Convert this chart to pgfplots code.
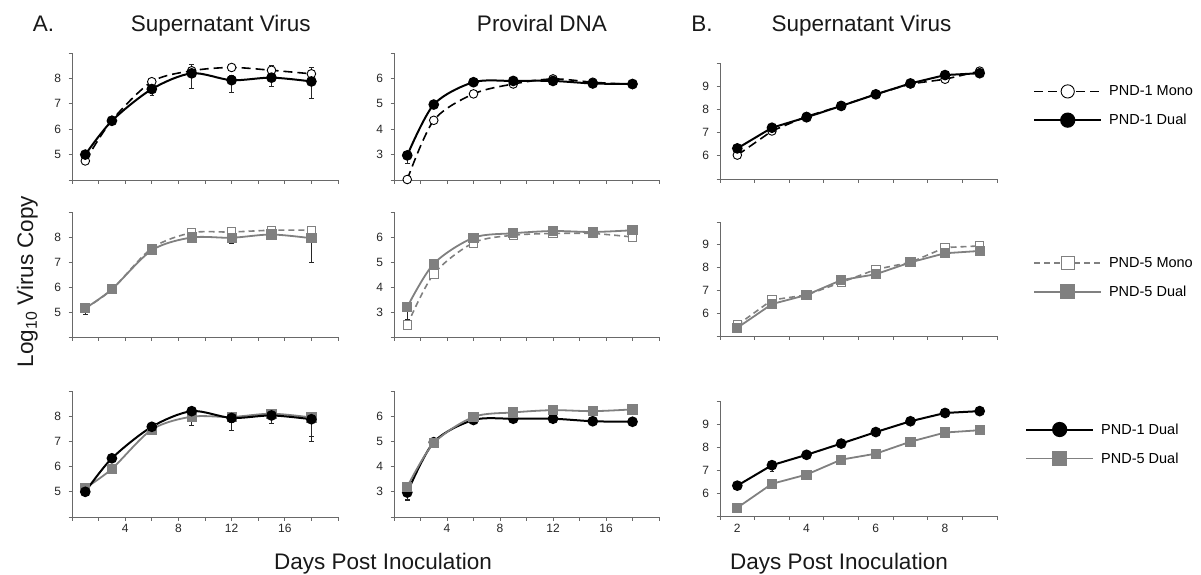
\documentclass[border=0pt]{standalone}
\usepackage{fontspec}
\setmainfont{Liberation Sans}
\usepackage{pgfplots}
\usepackage{pgfplotstable}
\pgfplotsset{compat=1.18}

\definecolor{pgray}{RGB}{128,128,128}
\definecolor{axgray}{RGB}{105,105,105}

% supernatant virus, days 1-18 (A)
\pgfplotstableread{
x y ep em
1 4.75 0.10 0.10
3 6.35 0.05 0.05
6 7.87 0.05 0.05
9 8.30 0.27 0.00
12 8.43 0.05 0.00
15 8.32 0.20 0.00
18 8.18 0.27 0.00
}\supMonoA
\pgfplotstableread{
x y ep em
1 5.00 0.12 0.15
3 6.33 0.05 0.05
6 7.58 0.05 0.25
9 8.20 0.05 0.58
12 7.93 0.20 0.47
15 8.03 0.10 0.33
18 7.88 0.10 0.68
}\supDualA
\pgfplotstableread{
x y ep em
1 5.15 0.00 0.00
3 5.90 0.00 0.00
6 7.55 0.00 0.00
9 8.17 0.00 0.00
12 8.20 0.00 0.00
15 8.27 0.00 0.00
18 8.27 0.00 0.00
}\supMonoB
\pgfplotstableread{
x y ep em
1 5.15 0.05 0.25
3 5.91 0.05 0.05
6 7.47 0.05 0.05
9 7.98 0.05 0.05
12 7.97 0.05 0.22
15 8.10 0.05 0.05
18 7.95 0.05 0.95
}\supDualB
% proviral DNA (A)
\pgfplotstableread{
x y ep em
1 2.02 0 0
3 4.35 0 0
6 5.39 0 0
9 5.78 0 0
12 5.98 0 0
15 5.85 0 0
18 5.76 0 0
}\dnaMonoA
\pgfplotstableread{
x y ep em
1 2.97 0.05 0.30
3 4.97 0.05 0.10
6 5.85 0.05 0.05
9 5.90 0.00 0.00
12 5.90 0.00 0.00
15 5.80 0.00 0.00
18 5.78 0.00 0.00
}\dnaDualA
\pgfplotstableread{
x y ep em
1 2.48 0 0
3 4.52 0 0
6 5.77 0 0
9 6.07 0 0
12 6.14 0 0
15 6.14 0 0
18 6.00 0 0
}\dnaMonoB
\pgfplotstableread{
x y ep em
1 3.20 0.10 0.50
3 4.93 0.05 0.05
6 5.97 0.00 0.00
9 6.15 0.00 0.00
12 6.24 0.00 0.00
15 6.20 0.00 0.00
18 6.27 0.00 0.00
}\dnaDualB
% supernatant virus, days 2-9 (B)
\pgfplotstableread{
x y ep em
2 6.03 0 0
3 7.07 0 0
4 7.70 0 0
5 8.15 0 0
6 8.65 0 0
7 9.10 0 0
8 9.30 0 0
9 9.65 0 0
}\bMonoA
\pgfplotstableread{
x y ep em
2 6.32 0.05 0.05
3 7.21 0.10 0.25
4 7.66 0.00 0.00
5 8.15 0.00 0.00
6 8.65 0.00 0.00
7 9.12 0.00 0.00
8 9.48 0.00 0.00
9 9.56 0.00 0.00
}\bDualA
\pgfplotstableread{
x y ep em
2 5.48 0 0
3 6.58 0 0
4 6.80 0 0
5 7.35 0 0
6 7.92 0 0
7 8.23 0 0
8 8.88 0 0
9 8.95 0 0
}\bMonoB
\pgfplotstableread{
x y ep em
2 5.36 0.00 0.00
3 6.40 0.05 0.20
4 6.80 0.00 0.00
5 7.45 0.00 0.00
6 7.71 0.00 0.00
7 8.23 0.00 0.00
8 8.63 0.00 0.00
9 8.73 0.00 0.00
}\bDualB

\pgfplotsset{
  table/x=x, table/y=y, table/y error plus=ep, table/y error minus=em,
  base/.style={scale only axis, clip=false,
    axis x line*=bottom, axis y line*=left,
    axis line style={axgray, line width=0.9pt},
    tick style={axgray, line width=0.9pt},
    tick align=outside, major tick length=3.5pt, minor tick length=3.5pt,
    ticklabel style={font=\fontsize{12}{14}\selectfont, text=black!85},
    yticklabel style={xshift=-4pt}},
  Ax/.style={base, width=266pt, xmin=0, xmax=20, xtick={0,2,...,20}, xticklabel={\mbox{}}},
  Ax3/.style={Ax, xticklabels={{},{},4,{},8,{},12,{},16,{},{}}},
  sup/.style={ymin=4, ymax=9, ytick={4,...,9}, yticklabels={{},5,6,7,8,{}}},
  dna/.style={ymin=2, ymax=7, ytick={2,...,7}, yticklabels={{},3,4,5,6,{}}},
  Bx/.style={base, width=277pt, xmin=1.5, xmax=9.5, xtick={1.5,2.5,...,9.5}, xticklabel={\mbox{}},
    ymin=5, ymax=10, ytick={5,...,10}, yticklabels={{},6,7,8,9,{}}},
  Bx3/.style={Bx, extra x ticks={2,4,6,8}, extra x tick labels={2,4,6,8},
    extra x tick style={major tick length=0pt, xticklabel style={yshift=-5pt}}},
  p1m/.style={black, line width=1.6pt, dash pattern=on 9pt off 5pt, mark=*, mark size=4.3pt,
    mark options={solid, fill=white, draw=black, line width=0.9pt}},
  p1d/.style={black, line width=2pt, solid, mark=*, mark size=4.3pt, mark options={solid, fill=black}},
  p5m/.style={pgray, line width=1.6pt, dash pattern=on 6pt off 4pt, mark=square*, mark size=4.2pt,
    mark options={solid, fill=white, draw=pgray, line width=0.9pt}},
  p5d/.style={pgray, line width=1.8pt, solid, mark=square*, mark size=4.2pt, mark options={solid, fill=pgray}},
  eb/.style={error bars/.cd, y dir=both, y explicit,
    error bar style={black!85, line width=0.6pt, solid},
    error mark options={rotate=90, mark size=2.3pt, black!85, line width=0.6pt, solid}},
  lgd/.style={legend cell align=left,
    legend style={draw=none, fill=none, anchor=west, inner sep=0pt, row sep=13pt, column sep=5pt,
      font=\fontsize{14.5}{17}\selectfont, nodes={inner sep=2pt}},
    legend image code/.code={\draw[mark repeat=2, mark phase=2, ##1, mark size=6.6pt]
      plot coordinates {(0pt,0pt) (33.5pt,0pt) (67pt,0pt)};}},
}

\begin{document}
\begin{tikzpicture}
\useasboundingbox (0,0) rectangle (1201pt,-575pt);

% ---- row 1 ----
\begin{axis}[Ax, sup, height=127pt, at={(72pt,-180pt)}, anchor=south west]
  \addplot[p1m, smooth, eb] table {\supMonoA};
  \addplot[p1d, smooth, eb] table {\supDualA};
\end{axis}
\begin{axis}[Ax, dna, width=265pt, height=127pt, at={(394pt,-180pt)}, anchor=south west]
  \addplot[p1m, smooth, eb] table {\dnaMonoA};
  \addplot[p1d, smooth, eb] table {\dnaDualA};
\end{axis}
\begin{axis}[Bx, lgd, height=116pt, at={(720pt,-179pt)}, anchor=south west,
    legend style={at={(1.13,0.63)}, anchor=west}]
  \addplot[p1m, eb] table {\bMonoA};
  \addplot[p1d, eb] table {\bDualA};
  \legend{PND-1 Mono, PND-1 Dual}
\end{axis}

% ---- row 2 ----
\begin{axis}[Ax, sup, height=125pt, at={(72pt,-337pt)}, anchor=south west]
  \addplot[p5m, smooth, eb] table {\supMonoB};
  \addplot[p5d, smooth, eb] table {\supDualB};
\end{axis}
\begin{axis}[Ax, dna, width=265pt, height=125pt, at={(394pt,-337pt)}, anchor=south west]
  \addplot[p5m, smooth, eb] table {\dnaMonoB};
  \addplot[p5d, smooth, eb] table {\dnaDualB};
\end{axis}
\begin{axis}[Bx, lgd, height=114pt, at={(720pt,-336pt)}, anchor=south west,
    legend style={at={(1.13,0.513)}, anchor=west}]
  \addplot[p5m, eb] table {\bMonoB};
  \addplot[p5d, eb] table {\bDualB};
  \legend{PND-5 Mono, PND-5 Dual}
\end{axis}

% ---- row 3 ----
\begin{axis}[Ax3, sup, height=126pt, at={(72pt,-517pt)}, anchor=south west]
  \addplot[p5d, smooth, eb] table {\supDualB};
  \addplot[p1d, smooth, eb] table {\supDualA};
\end{axis}
\begin{axis}[Ax3, dna, width=265pt, height=126pt, at={(394pt,-517pt)}, anchor=south west]
  \addplot[p1d, smooth, eb] table {\dnaDualA};
  \addplot[p5d, smooth, eb] table {\dnaDualB};
\end{axis}
\begin{axis}[Bx3, lgd, height=115pt, at={(720pt,-516pt)}, anchor=south west,
    legend style={at={(1.101,0.626)}, anchor=west}]
  \addplot[p1d, eb] table {\bDualA};
  \addplot[p5d, eb] table {\bDualB};
  \legend{PND-1 Dual, PND-5 Dual}
\end{axis}

% ---- titles and axis names ----
\begin{scope}[every node/.style={font=\fontsize{22.5}{26}\selectfont, text=black!90, anchor=base}]
  \node at (43.5pt,-32pt) {A.};
  \node at (220.8pt,-32pt) {Supernatant Virus};
  \node at (542pt,-32pt) {Proviral DNA};
  \node at (702pt,-32pt) {B.};
  \node at (861.5pt,-32pt) {Supernatant Virus};
  \node at (383pt,-569pt) {Days Post Inoculation};
  \node at (839pt,-569pt) {Days Post Inoculation};
  \node[rotate=90] at (33pt,-281.5pt) {Log\textsubscript{10} Virus Copy};
\end{scope}
\end{tikzpicture}
\end{document}
